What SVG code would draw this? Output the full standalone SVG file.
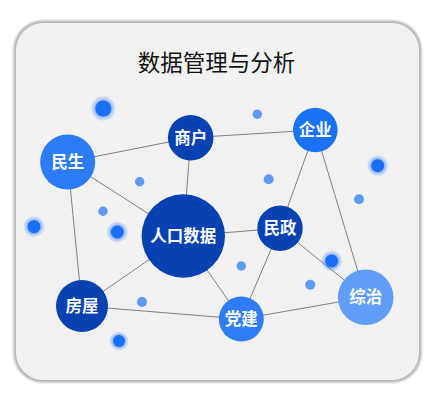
<svg xmlns="http://www.w3.org/2000/svg" width="433" height="395" viewBox="0 0 433 395">
<defs>
<filter id="shadow" x="-10%" y="-10%" width="120%" height="120%">
<feGaussianBlur stdDeviation="1"/>
</filter>
<radialGradient id="halo">
<stop offset="0.5" stop-color="#1a6ff5" stop-opacity="0.55"/>
<stop offset="1" stop-color="#1a6ff5" stop-opacity="0"/>
</radialGradient>
</defs>
<style>
.edge{stroke:#808080;stroke-width:1;fill:none}
.lbl{font-family:"Noto Sans CJK SC","Liberation Sans",sans-serif;font-weight:bold;font-size:16.5px;fill:#ffffff;text-anchor:middle}
.dark{fill:#0841b1}
.dot{fill:#5c9af6}
.gcore{fill:#1a6ff5}
</style>
<rect x="13.5" y="20.5" width="408" height="362" rx="29" fill="#b5b5b5" filter="url(#shadow)"/>
<rect x="16" y="23" width="403" height="357" rx="27" fill="#f1f1f1"/>
<text x="216.5" y="70.5" font-family="Noto Sans CJK SC,Liberation Sans,sans-serif" font-size="22.5" fill="#111111" text-anchor="middle">数据管理与分析</text>
<g id="connectors">
<line class="edge" x1="67.7" y1="162" x2="190.7" y2="137.7"/>
<line class="edge" x1="190.7" y1="137.7" x2="315.3" y2="130"/>
<line class="edge" x1="190.7" y1="137.7" x2="183.3" y2="236"/>
<line class="edge" x1="67.7" y1="162" x2="183.3" y2="236"/>
<line class="edge" x1="67.7" y1="162" x2="82" y2="306"/>
<line class="edge" x1="315.3" y1="130" x2="280" y2="228.3"/>
<line class="edge" x1="315.3" y1="130" x2="365.7" y2="297.3"/>
<line class="edge" x1="183.3" y1="236" x2="280" y2="228.3"/>
<line class="edge" x1="183.3" y1="236" x2="82" y2="306"/>
<line class="edge" x1="183.3" y1="236" x2="241.3" y2="319"/>
<line class="edge" x1="280" y1="228.3" x2="241.3" y2="319"/>
<line class="edge" x1="280" y1="228.3" x2="365.7" y2="297.3"/>
<line class="edge" x1="82" y1="306" x2="241.3" y2="319"/>
<line class="edge" x1="241.3" y1="319" x2="365.7" y2="297.3"/>
</g>
<g id="dots">
<circle cx="103.3" cy="108.5" r="13" fill="url(#halo)"/>
<circle class="gcore" cx="103.3" cy="108.5" r="8"/>
<circle cx="377.7" cy="165.7" r="11" fill="url(#halo)"/>
<circle class="gcore" cx="377.7" cy="165.7" r="6.5"/>
<circle cx="34" cy="226.7" r="11" fill="url(#halo)"/>
<circle class="gcore" cx="34" cy="226.7" r="6.5"/>
<circle cx="117.3" cy="232" r="11" fill="url(#halo)"/>
<circle class="gcore" cx="117.3" cy="232" r="6.5"/>
<circle cx="331.7" cy="261" r="11" fill="url(#halo)"/>
<circle class="gcore" cx="331.7" cy="261" r="6.5"/>
<circle cx="119" cy="341" r="10" fill="url(#halo)"/>
<circle class="gcore" cx="119" cy="341" r="6"/>
<circle class="dot" cx="257.3" cy="114.3" r="4.7"/>
<circle class="dot" cx="139.7" cy="181.7" r="4.7"/>
<circle class="dot" cx="268.7" cy="179.3" r="5"/>
<circle class="dot" cx="359" cy="199.3" r="5"/>
<circle class="dot" cx="103" cy="211.3" r="4.7"/>
<circle class="dot" cx="241.3" cy="266" r="4.7"/>
<circle class="dot" cx="310.3" cy="284.7" r="5"/>
<circle class="dot" cx="142" cy="302" r="5"/>
</g>
<g id="minsheng"><circle cx="67.7" cy="162" r="27.5" fill="#2b7cf6"/><text class="lbl" x="67.7" y="167.8">民生</text></g>
<g id="shanghu"><circle class="dark" cx="190.7" cy="137.7" r="22.8"/><text class="lbl" x="190.7" y="143.5">商户</text></g>
<g id="qiye"><circle cx="315.3" cy="130" r="22.3" fill="#1a73f7"/><text class="lbl" x="315.3" y="135.8">企业</text></g>
<g id="renkou"><circle class="dark" cx="183.3" cy="236" r="41.7"/><text class="lbl" x="183.3" y="241.8">人口数据</text></g>
<g id="minzheng"><circle class="dark" cx="280" cy="228.3" r="22.7"/><text class="lbl" x="280" y="234.1">民政</text></g>
<g id="fangwu"><circle class="dark" cx="82" cy="306" r="26"/><text class="lbl" x="82" y="311.8">房屋</text></g>
<g id="dangjian"><circle cx="241.3" cy="319" r="22.5" fill="#2e7cf6"/><text class="lbl" x="241.3" y="324.8">党建</text></g>
<g id="zongzhi"><circle cx="365.7" cy="297.3" r="27.8" fill="#5f9df8"/><text class="lbl" x="365.7" y="303.1">综治</text></g>
</svg>
